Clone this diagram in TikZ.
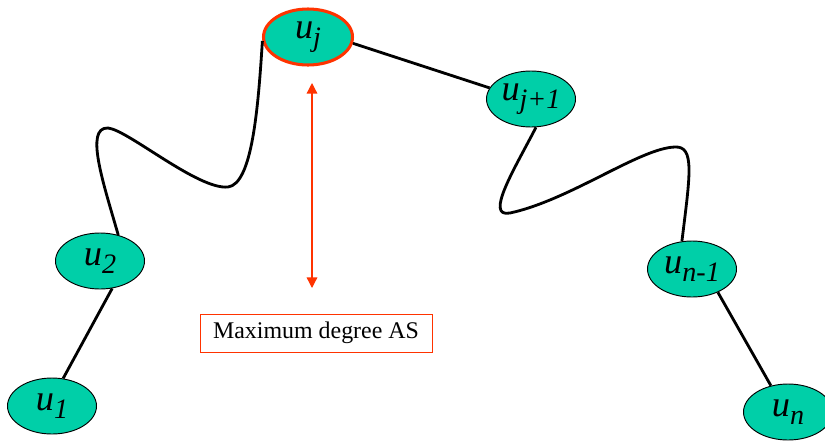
\documentclass[tikz,border=0pt]{standalone}
\usepackage{fontspec}
\setmainfont{Liberation Serif}
\usepackage{tikz}
\usetikzlibrary{positioning, arrows.meta, shapes.geometric}
\definecolor{asgreen}{HTML}{00CFA8}
\definecolor{asred}{HTML}{FF3300}
\newcommand{\usub}[1]{\textit{u}\raisebox{-7pt}{\fontsize{24}{26}\selectfont\textit{#1}}}

\begin{document}
\begin{tikzpicture}[
  x=0.03cm, y=-0.03cm,
  asnode/.style={
    ellipse, draw=black, line width=0.8pt, fill=asgreen,
    minimum width=2.67cm, minimum height=1.68cm, inner sep=0pt,
    font=\fontsize{31}{36}\selectfont
  },
  maxnode/.style={asnode, draw=asred, line width=2.6pt},
  link/.style={line width=2.4pt, black},
  degbox/.style={
    rectangle, draw=asred, line width=0.8pt,
    minimum width=6.96cm, minimum height=1.14cm,
    font=\fontsize{20.4}{24}\selectfont
  },
  degarr/.style={{Triangle[length=9pt,width=9pt]}-{Triangle[length=9pt,width=9pt]}, asred, line width=1.1pt},
]
\useasboundingbox (0,0) rectangle (825,440);

% AS path
\node[asnode]  (u1)  at (52,406)  {\usub{1}};
\node[asnode]  (u2)  at (100,261) {\usub{2}};
\node[maxnode] (uj)  at (308,37)  {\usub{j}};
\node[asnode]  (ujj) at (531,99)  {\usub{j+1}};
\node[asnode]  (un1) at (692,269) {\usub{n-1}};
\node[asnode]  (un)  at (788,412) {\usub{n}};

\draw[link] (u1.68) -- (u2.-66);
\draw[link] (u2.55) .. controls (104,185) and (84,127) .. (108,128)
  .. controls (128,130) and (198,190) .. (228,187)
  .. controls (252,184) and (258,110) .. (uj.185);
\draw[link] (uj.-8) -- (ujj.165);
\draw[link] (ujj.-80) .. controls (515,168) and (484,218) .. (510,213)
  .. controls (570,200) and (640,148) .. (675,147)
  .. controls (695,146) and (690,175) .. (un1.110);
\draw[link] (un1.-42) -- (un.123);

% Maximum degree label
\coordinate (atop) at (312,83);
\coordinate (abot) at (312,288);
\draw[degarr] (atop) -- (abot);
\node[degbox] (deg) at (316,333) {Maximum degree AS};
\end{tikzpicture}
\end{document}
